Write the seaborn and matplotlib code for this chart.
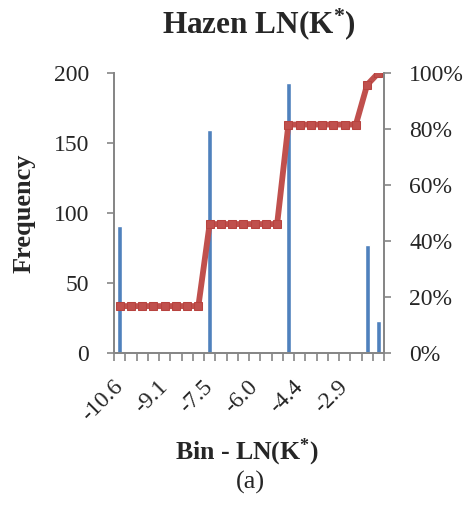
import matplotlib
matplotlib.use("Agg")
import matplotlib.pyplot as plt
import seaborn as sns
import numpy as np
import pandas as pd
from matplotlib.ticker import FuncFormatter, FixedLocator

bins = ["-10.6", "-10.2", "-9.8", "-9.4", "-9.1", "-8.7", "-8.3", "-7.9",
        "-7.5", "-7.1", "-6.7", "-6.4", "-6.0", "-5.6", "-5.2", "-4.8",
        "-4.4", "-4.0", "-3.7", "-3.3", "-2.9", "-2.5", "-2.1", "-1.7"]
frequency = [91, 0, 0, 0, 0, 0, 0, 0,
             159, 0, 0, 0, 0, 0, 0, 193,
             0, 0, 0, 0, 0, 0, 77, 23]

cum_pct = np.cumsum(frequency) / np.sum(frequency)

df = pd.DataFrame({"bin": bins, "freq": frequency, "pos": np.arange(len(bins)),
                   "cum": cum_pct})

sns.set_style("white")
plt.rcParams["font.family"] = ["Liberation Serif", "DejaVu Serif"]
plt.rcParams["mathtext.fontset"] = "custom"
plt.rcParams["mathtext.rm"] = "Liberation Serif"
plt.rcParams["mathtext.bf"] = "Liberation Serif:bold"
plt.rcParams["mathtext.it"] = "Liberation Serif:italic"

fig = plt.figure(figsize=(4.68, 5.07), dpi=100)
ax = fig.add_axes([114/468, 1-353/507, 270/468, 280/507])

sns.barplot(data=df, x="bin", y="freq", color="#4F81BD", width=0.45,
            saturation=1, ax=ax, order=bins)
ax.set_xlim(-0.5, len(bins)-0.5)
ax.set_ylim(0, 200)
ax.set_yticks([0, 50, 100, 150, 200])

ax2 = ax.twinx()
sns.lineplot(data=df, x="pos", y="cum", color="#C0504D", linewidth=4.2,
             marker="s", markersize=5.5, markeredgecolor="#B8433F",
             markerfacecolor="#C0504D", ax=ax2)
ax2.set_ylim(0, 1)
ax2.set_yticks([0, 0.2, 0.4, 0.6, 0.8, 1.0])
ax2.yaxis.set_major_formatter(FuncFormatter(lambda v, p: f"{v*100:.0f}%"))
ax2.set_xlim(-0.5, len(bins)-0.5)

grey = "#868686"
for a in (ax, ax2):
    for s in a.spines.values():
        s.set_color(grey)
        s.set_linewidth(1.3)
    a.spines["top"].set_visible(False)

# x ticks: labels every 4th category, tick marks at boundaries
label_pos = list(range(0, len(bins), 4))
ax.xaxis.set_major_locator(FixedLocator(label_pos))
ax.set_xticklabels([bins[i] for i in label_pos], rotation=45, ha="right",
                   va="center", rotation_mode="anchor", fontsize=17)
ax.xaxis.set_minor_locator(FixedLocator(np.arange(-0.5, len(bins), 1)))
ax.tick_params(axis="x", which="major", length=0, pad=22)
ax.tick_params(axis="x", which="minor", length=6, width=1.2, color=grey, direction="out", bottom=True)
ax.tick_params(axis="y", which="major", length=5, width=1.2, color=grey, direction="out",
               labelsize=17, pad=13, left=True)
ax2.tick_params(axis="y", which="major", length=5, width=1.2, color=grey, direction="out",
                labelsize=17, pad=13, right=True)
ax2.set_ylabel("")
ax.set_xlabel("")
ax.set_ylabel("Frequency", fontsize=19, fontweight="bold", labelpad=13)

fig.text(259/468, 1-24/507, r"Hazen LN(K$^{\mathbf{*}}$)", ha="center", va="center",
         fontsize=22.5, fontweight="bold")
fig.text(247/468, 1-452/507, r"Bin - LN(K$^{\mathbf{*}}$)", ha="center", va="center",
         fontsize=18.5, fontweight="bold")
fig.text(250/468, 1-482/507, "(a)", ha="center", va="center", fontsize=19)

fig.savefig("out.png", dpi=100)
